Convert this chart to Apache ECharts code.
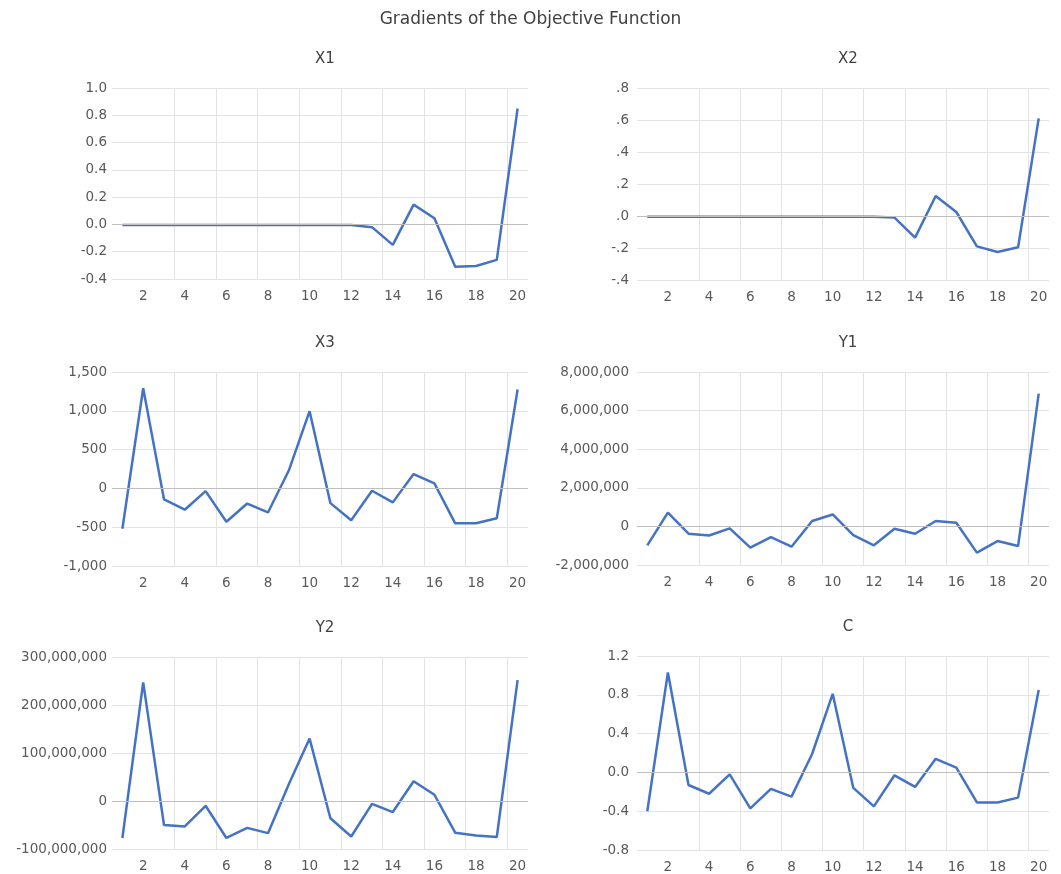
<!DOCTYPE html>
<html>
<head>
<meta charset="utf-8">
<script src="https://cdn.jsdelivr.net/npm/echarts@6/dist/echarts.min.js"></script>
<style>
html,body{margin:0;padding:0;background:#fff;}
#chart{width:1061px;height:874px;}
</style>
</head>
<body>
<div id="chart"></div>
<script>
var categories = ['1','2','3','4','5','6','7','8','9','10','11','12','13','14','15','16','17','18','19','20'];

var panelNames = ['X1','X2','X3','Y1','Y2','C'];

var x1 = [-0.005,-0.005,-0.005,-0.005,-0.005,-0.005,-0.005,-0.005,-0.005,-0.005,-0.005,-0.005,-0.02,-0.15,0.145,0.045,-0.31,-0.305,-0.26,0.85];
var x2 = [-0.005,-0.005,-0.005,-0.005,-0.005,-0.005,-0.005,-0.005,-0.005,-0.005,-0.005,-0.005,-0.01,-0.135,0.125,0.025,-0.19,-0.225,-0.195,0.61];
var x3 = [-520,1290,-140,-275,-35,-430,-195,-310,230,995,-190,-410,-30,-180,185,65,-450,-450,-385,1275];
var y1 = [-980000,710000,-380000,-470000,-100000,-1100000,-550000,-1050000,280000,620000,-450000,-980000,-120000,-380000,280000,190000,-1360000,-760000,-1020000,6880000];
var y2 = [-77000000,247000000,-50000000,-53000000,-10000000,-77000000,-56000000,-67000000,35000000,130000000,-36000000,-74000000,-6000000,-23000000,41000000,13000000,-66000000,-72000000,-75000000,252000000];
var cVals = [-0.40,1.03,-0.13,-0.22,-0.02,-0.37,-0.17,-0.25,0.19,0.81,-0.16,-0.35,-0.03,-0.15,0.14,0.05,-0.31,-0.31,-0.26,0.85];

var yMin  = [-0.4, -0.4, -1000, -2000000, -100000000, -0.8];
var yMax  = [1.0, 0.8, 1500, 8000000, 300000000, 1.2];
var yStep = [0.2, 0.2, 500, 2000000, 100000000, 0.4];
var yFormat = ['fixed1','noLead','comma','comma','comma','fixed1'];

var seriesData = [x1, x2, x3, y1, y2, cVals];

function fmt(kind) {
  return function (v) {
    if (kind === 'fixed1') { var s = v.toFixed(1); return s === '-0.0' ? '0.0' : s; }
    if (kind === 'noLead') {
      var t = v.toFixed(1); if (t === '-0.0') t = '0.0';
      return t.replace(/^(-?)0\./, '$1.');
    }
    return Math.round(v).toLocaleString('en-US');
  };
}

var grids = [
  {left:112, top:88,  width:416, height:191},
  {left:637, top:88,  width:412, height:192},
  {left:112, top:372, width:416, height:194},
  {left:637, top:372, width:412, height:193},
  {left:112, top:657, width:416, height:192},
  {left:637, top:656, width:412, height:194}
];

var font = '"DejaVu Sans", sans-serif';
var titles = [{
  text: 'Gradients of the Objective Function',
  left: 'center', top: 6,
  textStyle: {fontFamily: font, fontSize: 17, fontWeight: 'normal', color: '#404040'}
}];
var xAxes = [], yAxes = [], series = [];
grids.forEach(function (g, i) {
  titles.push({
    text: panelNames[i],
    left: g.left + g.width / 2, top: g.top - 41, textAlign: 'center',
    textStyle: {fontFamily: font, fontSize: 15, fontWeight: 'normal', color: '#404040'}
  });
  xAxes.push({
    type: 'category', gridIndex: i, data: categories, boundaryGap: true,
    axisLine: {show: false}, axisTick: {show: false},
    axisLabel: {interval: function (idx) { return idx % 2 === 1; }, margin: 10,
      fontFamily: font, fontSize: 13.5, color: '#595959'},
    splitLine: {show: true, showMaxLine: false, showMinLine: false,
      interval: function (idx) { return idx % 2 === 1; },
      lineStyle: {color: '#e3e3e3', width: 1}}
  });
  yAxes.push({
    type: 'value', gridIndex: i, min: yMin[i], max: yMax[i], interval: yStep[i],
    axisLine: {show: false}, axisTick: {show: false},
    axisLabel: {formatter: fmt(yFormat[i]), margin: (i % 2 === 0 ? 5 : 8),
      fontFamily: font, fontSize: 13.5, color: '#595959'},
    splitLine: {show: true, lineStyle: {color: '#e3e3e3', width: 1}}
  });
  series.push({
    type: 'line', xAxisIndex: i, yAxisIndex: i, data: seriesData[i],
    symbol: 'none', lineStyle: {color: '#4472C4', width: 2.5},
    itemStyle: {color: '#4472C4'}, silent: true,
    markLine: {silent: true, symbol: 'none', label: {show: false},
      lineStyle: {color: '#bfbfbf', width: 1, type: 'solid'},
      data: [{yAxis: 0}], animation: false}
  });
});

var chart = echarts.init(document.getElementById('chart'), null, {renderer: 'canvas'});
chart.setOption({
  animation: false,
  backgroundColor: '#ffffff',
  title: titles,
  grid: grids,
  xAxis: xAxes,
  yAxis: yAxes,
  series: series
});
</script>
</body>
</html>
